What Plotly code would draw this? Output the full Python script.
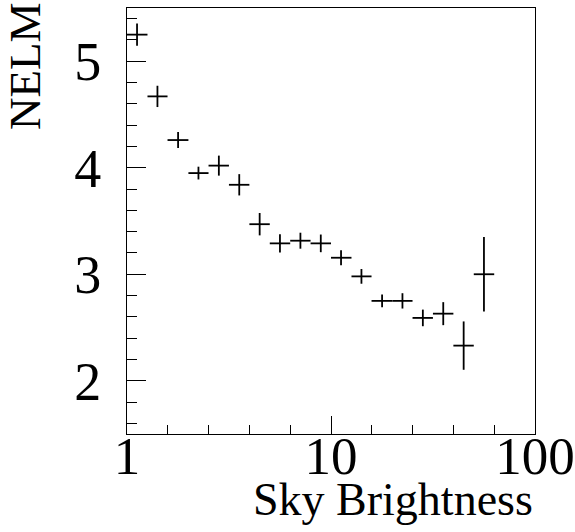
import plotly.graph_objects as go

# Sky brightness bin centers (log-spaced bins) and bin edges
sky_centers = [1.12, 1.41, 1.78, 2.24, 2.82, 3.55, 4.47, 5.62, 7.08, 8.91,
               11.2, 14.1, 17.8, 22.4, 28.2, 35.5, 44.7, 56.2]
sky_edges = [1.0, 1.26, 1.58, 2.0, 2.51, 3.16, 3.98, 5.01, 6.31, 7.94,
             10.0, 12.6, 15.8, 20.0, 25.1, 31.6, 39.8, 50.1, 63.1]
nelm = [5.25, 4.67, 4.26, 3.95, 4.02, 3.84, 3.47, 3.29, 3.315, 3.29,
        3.155, 2.98, 2.75, 2.75, 2.59, 2.63, 2.33, 3.00]
nelm_err = [0.105, 0.10, 0.075, 0.06, 0.094, 0.10, 0.105, 0.086, 0.075, 0.083,
            0.07, 0.069, 0.06, 0.072, 0.078, 0.108, 0.227, 0.35]

x_tick_vals = [1, 10, 100]
x_tick_text = ["1", "10", "100"]
x_minor_vals = [1.585, 2.512, 3.981, 6.310, 15.85, 25.12, 39.81, 63.10]

err_lo = [c - sky_edges[i] for i, c in enumerate(sky_centers)]
err_hi = [sky_edges[i + 1] - c for i, c in enumerate(sky_centers)]

FONT = "Liberation Serif"

fig = go.Figure()
fig.add_trace(go.Scatter(
    x=sky_centers, y=nelm, mode="markers",
    marker=dict(size=1, color="black", opacity=0),
    error_x=dict(type="data", symmetric=False, array=err_hi, arrayminus=err_lo,
                 width=0, thickness=1.8, color="black"),
    error_y=dict(type="data", array=nelm_err, width=0, thickness=1.8, color="black"),
    showlegend=False, hoverinfo="skip",
))

fig.update_layout(
    width=575, height=532,
    margin=dict(l=127, r=40, t=8, b=98),
    paper_bgcolor="white", plot_bgcolor="white",
    font=dict(family=FONT, color="black"),
    xaxis=dict(
        type="log", range=[0, 2], automargin=False,
        tickvals=x_tick_vals, ticktext=x_tick_text,
        ticks="inside", ticklen=18, tickwidth=1, tickcolor="black",
        minor=dict(tickvals=x_minor_vals, ticks="inside", ticklen=9,
                   tickwidth=1, tickcolor="black", showgrid=False),
        showline=True, linecolor="black", linewidth=1, mirror=True,
        showgrid=False, zeroline=False,
        tickfont=dict(family=FONT, size=53, color="black"),
        ticklabelstandoff=-25, ticklabeloverflow="allow",
    ),
    yaxis=dict(
        range=[1.5, 5.5], tick0=0, dtick=1, automargin=False,
        ticks="inside", ticklen=19, tickwidth=1, tickcolor="black",
        minor=dict(dtick=0.2, ticks="inside", ticklen=10, tickwidth=1,
                   tickcolor="black", showgrid=False),
        showline=True, linecolor="black", linewidth=1, mirror=True,
        showgrid=False, zeroline=False,
        tickfont=dict(family=FONT, size=54, color="black"),
        ticklabelstandoff=14, ticklabeloverflow="allow",
    ),
    annotations=[
        dict(text="Sky Brightness", xref="paper", yref="paper", x=1, y=0,
             xanchor="right", yanchor="top", yshift=-38, showarrow=False,
             font=dict(family=FONT, size=46, color="black")),
        dict(text="NELM", xref="paper", yref="paper", x=0, y=1,
             xanchor="right", yanchor="top", xshift=-75, yshift=8,
             textangle=-90, showarrow=False,
             font=dict(family=FONT, size=45, color="black")),
    ],
)

fig.write_html("out.html", config={"displayModeBar": False},
               post_script="document.body.style.margin='0';")
